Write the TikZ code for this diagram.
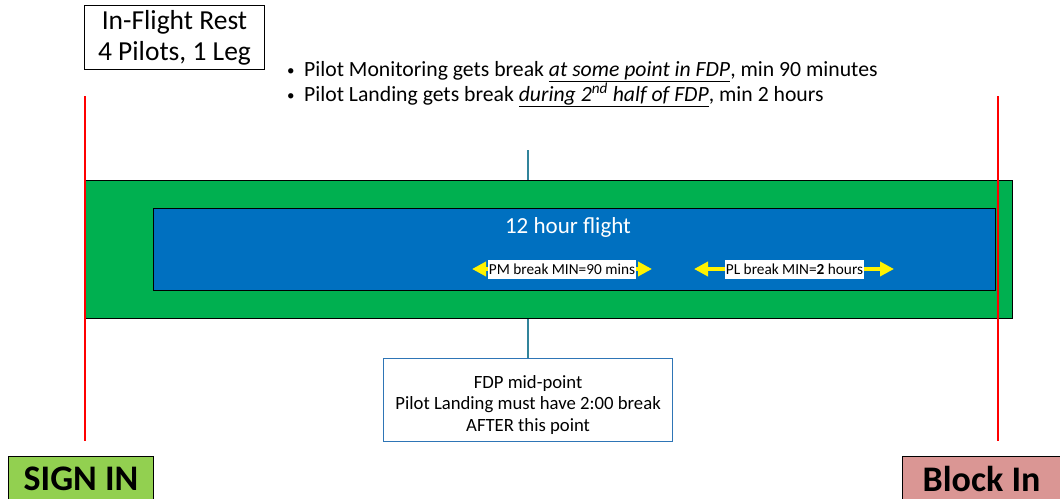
\documentclass[tikz,border=0pt]{standalone}
\usepackage{fontspec}
\setmainfont{Carlito}
\usetikzlibrary{arrows.meta}
\definecolor{fgreen}{HTML}{00B050}
\definecolor{fblue}{HTML}{0070C0}
\definecolor{signgreen}{HTML}{92D050}
\definecolor{blockred}{HTML}{DA9694}
\definecolor{tealline}{HTML}{31849B}
\definecolor{boxblue}{HTML}{2E75B6}
\definecolor{redline}{HTML}{FF0000}
\newcommand{\mybullet}{\makebox[17pt][l]{\raisebox{0.5pt}{\fontsize{15}{15}\selectfont\textbullet}}}
\tikzset{
  box/.style={draw=black, line width=1pt, inner sep=0pt},
  redmark/.style={draw=redline, line width=1.6pt},
  tealconn/.style={draw=tealline, line width=1.2pt},
  brk/.style={fill=white, inner sep=0pt, font=\fontsize{15.3}{17}\selectfont},
  yarrow/.style={draw=yellow, line width=3.5pt, {Triangle[width=14pt,length=14pt]}-{Triangle[width=14pt,length=14pt]}},
  bigbtn/.style={draw=black, line width=1pt, font=\fontsize{36}{40}\selectfont\bfseries, inner sep=0pt, anchor=north west}
}
\begin{document}
\begin{tikzpicture}[x=1pt,y=-1pt]
\useasboundingbox (0,0) rectangle (1060,498);
% title
\node[box, minimum width=180pt, minimum height=64pt, anchor=north west, align=center,
  font=\fontsize{27.5}{31}\selectfont] (title) at (84,5) {In-Flight Rest\\4 Pilots, 1 Leg};
% bullets
\node[anchor=north west, align=left, inner sep=0pt, font=\fontsize{21.7}{25}\selectfont] (bullets) at (287,61) {%
  \mybullet Pilot Monitoring gets break \underline{\textit{at some point in FDP}}, min 90 minutes\\
  \mybullet Pilot Landing gets break \underline{\textit{during 2\textsuperscript{nd} half of FDP}}, min 2 hours};
% green and blue bars
\node[box, fill=fgreen, minimum width=928pt, minimum height=138pt, anchor=north west] (green) at (84,180) {};
\node[box, fill=fblue, minimum width=842pt, minimum height=82pt, anchor=north west] (blue) at (153,208) {};
\node[text=white, font=\fontsize{23}{26}\selectfont, inner sep=0pt] (flight) at (568,227) {12 hour flight};
% break arrows
\coordinate (pmL) at (472,269);
\coordinate (pmR) at (652,269);
\coordinate (plL) at (694,269);
\coordinate (plR) at (894,269);
\draw[yarrow] (pmL) -- (pmR);
\draw[yarrow] (plL) -- (plR);
\node[brk, minimum width=148pt, minimum height=19pt] (pm) at (562,269) {PM break MIN=90 mins};
\node[brk, minimum width=139pt, minimum height=19pt] (pl) at (794.5,269) {PL break MIN=\textbf{2} hours};
% red lines
\coordinate (rl1) at (85,96);
\coordinate (rl2) at (85,441);
\coordinate (rr1) at (998,96);
\coordinate (rr2) at (998,441);
\draw[redmark] (rl1) -- (rl2);
\draw[redmark] (rr1) -- (rr2);
% mid point
\node[draw=boxblue, line width=1.2pt, minimum width=289pt, minimum height=83pt, anchor=north west,
  align=center, font=\fontsize{18.7}{21.5}\selectfont, inner sep=0pt] (mid) at (383,358)
  {\rule{0pt}{22pt}FDP mid-point\\Pilot Landing must have 2:00 break\\AFTER this point};
\coordinate (midtop) at (528,150);
\draw[tealconn] (midtop) -- (midtop |- green.north);
\draw[tealconn] (mid.north -| midtop) -- (midtop |- green.south);
% bottom buttons
\node[bigbtn, fill=signgreen, minimum width=145pt, minimum height=44pt] (sign) at (8,456) {SIGN IN};
\node[bigbtn, fill=blockred, minimum width=158pt, minimum height=44pt] (block) at (902,456) {Block In};
\end{tikzpicture}
\end{document}
